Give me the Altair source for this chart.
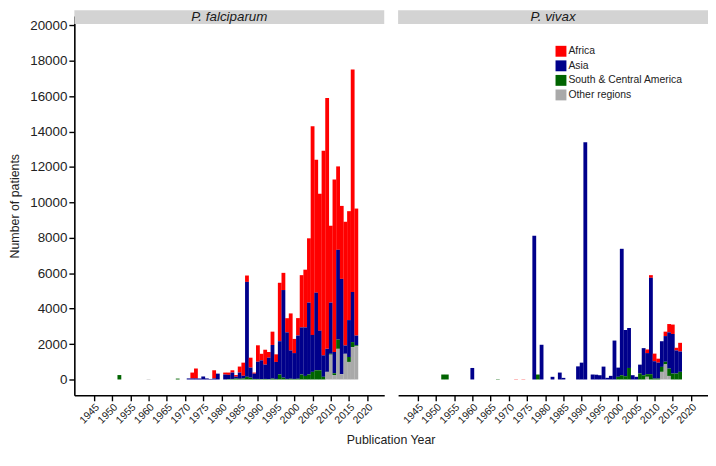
import altair as alt
import pandas as pd

REGIONS = ["Africa", "Asia", "South & Central America", "Other regions"]
COLORS = ["#FF0000", "#00008B", "#006400", "#A9A9A9"]
STACK_ORDER = [3, 2, 1, 0]
TICK_YEARS = list(range(1945, 2021, 5))
Y_TICKS = list(range(0, 20001, 2000))

# ---- P. falciparum ----
PF_YEARS = [1952, 1960, 1968, 1971, 1972, 1973, 1974, 1975, 1976, 1977, 1978, 1979,
            1981, 1982, 1983, 1984, 1985, 1986, 1987, 1988, 1989, 1990, 1991, 1992,
            1993, 1994, 1995, 1996, 1997, 1998, 1999, 2000, 2001, 2002, 2003, 2004,
            2005, 2006, 2007, 2008, 2009, 2010, 2011, 2012, 2013, 2014, 2015, 2016, 2017]
PF_AFRICA = [0, 0, 0, 0, 330, 560, 0, 0, 0, 0, 460, 0,
             110, 130, 130, 90, 340, 740, 360, 560, 60, 930, 370, 840,
             320, 750, 430, 3300, 970, 800, 2090, 800, 985, 2950, 3260, 3630,
             11785, 7510, 7733, 11550, 14160, 4340, 9740, 4710, 4120, 6985, 6150, 12560, 7170]
PF_ASIA = [0, 0, 0, 60, 60, 60, 60, 170, 60, 30, 60, 330,
           280, 240, 360, 100, 350, 150, 5360, 570, 300, 970, 1060, 810,
           1210, 1900, 960, 1880, 4950, 2630, 1600, 1460, 2440, 2660, 2740, 4060,
           2085, 4380, 2237, 1210, 1300, 2890, 1200, 5070, 5380, 470, 2083, 2830, 550]
PF_SCA = [250, 0, 50, 0, 0, 0, 0, 0, 0, 0, 0, 0,
          0, 20, 30, 60, 40, 60, 150, 100, 30, 30, 20, 30,
          20, 50, 30, 280, 100, 30, 40, 30, 40, 280, 200, 280,
          430, 520, 520, 150, 0, 50, 100, 520, 0, 0, 280, 280, 50]
PF_OTHER = [0, 20, 0, 0, 0, 0, 0, 0, 0, 0, 0, 0,
            0, 0, 0, 0, 0, 0, 0, 0, 0, 0, 0, 0,
            0, 0, 0, 0, 0, 0, 0, 0, 0, 0, 0, 0,
            0, 0, 0, 0, 430, 1400, 250, 1730, 300, 1450, 990, 1830, 1880]

# ---- P. vivax ----
PV_YEARS = [1952, 1953, 1960, 1967, 1972, 1974, 1977, 1978, 1979, 1982, 1984, 1985,
            1989, 1990, 1991, 1993, 1994, 1995, 1996, 1997, 1998, 1999, 2000, 2001,
            2002, 2003, 2004, 2005, 2006, 2007, 2008, 2009, 2010, 2011, 2012, 2013,
            2014, 2015, 2016, 2017]
PV_AFRICA = [0, 0, 0, 0, 15, 15, 0, 0, 0, 0, 0, 0,
             0, 0, 0, 0, 0, 0, 0, 0, 0, 0, 0, 0,
             0, 0, 0, 0, 0, 0, 205, 150, 430, 224, 0, 250,
             470, 530, 150, 490]
PV_ASIA = [0, 0, 650, 0, 0, 0, 8120, 0, 1960, 150, 390, 90,
           740, 950, 13400, 280, 270, 240, 727, 93, 205, 2198, 520, 7138,
           2609, 2256, 242, 150, 503, 1530, 1190, 5440, 980, 900, 1450, 1450,
           2045, 2235, 1305, 1150]
PV_SCA = [280, 280, 0, 20, 0, 0, 0, 280, 0, 0, 0, 0,
          0, 0, 0, 0, 0, 0, 0, 0, 0, 0, 150, 240,
          186, 650, 0, 0, 335, 240, 150, 300, 50, 50, 280, 150,
          415, 335, 335, 430]
PV_OTHER = [0, 0, 0, 0, 0, 0, 0, 0, 0, 0, 0, 0,
            0, 0, 0, 0, 0, 0, 0, 0, 0, 0, 0, 0,
            0, 0, 0, 0, 0, 0, 150, 0, 0, 0, 430, 850,
            200, 0, 0, 0]


def long_df(years, africa, asia, sca, other):
    rows = []
    for i, yr in enumerate(years):
        for reg, vals, o in zip(REGIONS, [africa, asia, sca, other], STACK_ORDER):
            if vals[i] > 0:
                rows.append({"year": yr, "region": reg, "patients": vals[i], "order": o})
    return pd.DataFrame(rows)


W, H = 313, 383
FONT = "Liberation Sans"
x_scale = alt.Scale(domain=[1941, 2023.3], nice=False, zero=False)
y_scale = alt.Scale(domain=[-895, 20515], nice=False, zero=False)
color_scale = alt.Scale(domain=REGIONS, range=COLORS)

legend = alt.Legend(
    title=None, orient="none", legendX=486, legendY=30,
    symbolType="square", symbolSize=121, symbolStrokeWidth=0,
    labelFontSize=10.5, labelFont=FONT, labelColor="#222222",
    labelOffset=2, rowPadding=3.7, padding=0,
)


def panel(df, label, show_y):
    x_axis = alt.Axis(values=TICK_YEARS, format="d", labelAngle=-45, labelAlign="right",
                      labelBaseline="top", labelFontSize=10.5, labelOverlap=False,
                      labelPadding=1, title=None)
    if show_y:
        y_enc = alt.Y("patients:Q", scale=y_scale, stack="zero",
                      axis=alt.Axis(values=Y_TICKS, format="d", title="Number of patients",
                                    titlePadding=8, labelFontSize=13.5, titleFontSize=12.5))
    else:
        y_enc = alt.Y("patients:Q", scale=y_scale, stack="zero", axis=None)
    bars = alt.Chart(df).mark_bar(width=3.85).encode(
        x=alt.X("year:Q", scale=x_scale, axis=x_axis),
        y=y_enc,
        color=alt.Color("region:N", scale=color_scale, legend=legend, sort=REGIONS),
        order=alt.Order("order:Q", sort="ascending"),
    )
    lab = pd.DataFrame({"t": [label]})
    strip = alt.Chart(lab).mark_rect(color="#D3D3D3").encode(
        x=alt.value(0), x2=alt.value(W), y=alt.value(-6), y2=alt.value(8))
    text = alt.Chart(lab).mark_text(fontStyle="italic", fontSize=13.5, font=FONT,
                                    color="#1a1a1a", baseline="middle").encode(
        x=alt.value(W / 2), y=alt.value(1), text="t:N")
    return alt.layer(bars, strip, text).properties(width=W, height=H)


pf = panel(long_df(PF_YEARS, PF_AFRICA, PF_ASIA, PF_SCA, PF_OTHER), "P. falciparum", True)
pv = panel(long_df(PV_YEARS, PV_AFRICA, PV_ASIA, PV_SCA, PV_OTHER), "P. vivax", False)

chart = alt.hconcat(pf, pv, spacing=14, title=alt.Title(
    "Publication Year", orient="bottom", anchor="middle", fontSize=12.5, font=FONT,
    fontWeight="normal", color="#222222", offset=9, dx=33)).properties(
    padding={"left": 0, "top": 0, "right": 0, "bottom": 0}
).configure_view(stroke=None).configure_axis(
    domainColor="#000000", domainWidth=1.6, tickColor="#000000", tickWidth=1.4,
    tickSize=5.5, labelColor="#222222", titleColor="#222222", labelFont=FONT,
    titleFont=FONT, grid=False, titleFontWeight="normal", labelPadding=2,
).configure_concat(spacing=14)

chart.save("out.html", embed_options={"renderer": "svg", "actions": False})
